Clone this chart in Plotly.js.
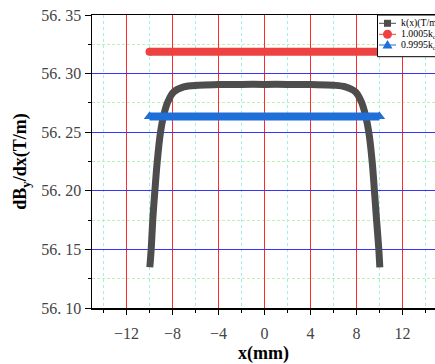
<!DOCTYPE html>
<html>
<head>
<meta charset="utf-8">
<script src="https://cdn.plot.ly/plotly-3.0.1.min.js"></script>
<style>html,body{margin:0;padding:0;background:#fff;}#chart{width:435px;height:364px;}</style>
</head>
<body>
<div id="chart"></div>
<script>
// k(x) curve
const xK = [-9.97, -9.85, -9.71, -9.54, -9.33, -9.04, -8.76, -8.41, -7.89, -7.02, -5.74, -4, -2, 0, 2, 4, 6.0, 7.04, 7.91, 8.43, 8.78, 9.07, 9.37, 9.57, 9.74, 9.94, 10.03];
const yK = [56.1347, 56.1505, 56.1761, 56.1989, 56.2245, 56.2502, 56.2645, 56.2758, 56.2844, 56.2887, 56.2901, 56.2906, 56.2908, 56.2908, 56.2908, 56.2906, 56.2901, 56.2887, 56.2844, 56.2758, 56.2645, 56.2502, 56.2245, 56.1989, 56.1761, 56.1505, 56.1347];
// reference levels
const xRef = [-10, 10];
const yHigh = [56.3187, 56.3187];   // 1.0005 k_c
const yLow = [56.2634, 56.2634];    // 0.9995 k_c
const seriesNames = ['k(x)(T/m)', '1.0005k<sub>c</sub>', '0.9995k<sub>c</sub>'];
const yTickVals = [56.10, 56.15, 56.20, 56.25, 56.30, 56.35];
const yTickText = ['56. 10', '56. 15', '56. 20', '56. 25', '56. 30', '56. 35'];
const xTickVals = [-12, -8, -4, 0, 4, 8, 12];

const cGray = '#4d4d4d', cRed = '#ee4242', cBlue = '#1f6fd8';

const traces = [
  {x: xK, y: yK, mode: 'lines', name: seriesNames[0], line: {color: cGray, width: 7, shape: 'spline'}, showlegend: false},
  {x: xRef, y: yHigh, mode: 'lines+markers', name: seriesNames[1], line: {color: cRed, width: 8}, marker: {symbol: 'circle', size: 8, color: cRed}, showlegend: false},
  {x: xRef, y: yLow, mode: 'lines+markers', name: seriesNames[2], line: {color: cBlue, width: 8}, marker: {symbol: 'triangle-up', size: 10, color: cBlue}, showlegend: false}
];

// manual legend geometry (paper coords)
const lx0 = (377.5 - 92) / 343, lyTop = 1.0, lyBot = (308 - 56.7) / 293;
const rowY = [(308 - 23.3) / 293, (308 - 34.3) / 293, (308 - 45) / 293];
const symL = (379 - 92) / 343, symR = (396 - 92) / 343, symC = (387.5 - 92) / 343, txtX = (399 - 92) / 343;
const colors = [cGray, cRed, cBlue];

const shapes = [
  {type: 'rect', xref: 'paper', yref: 'paper', x0: lx0, x1: 1.05, y0: lyBot, y1: lyTop, fillcolor: '#ffffff', line: {color: '#000', width: 1}, layer: 'above'}
];
const annotations = [];
for (let i = 0; i < 3; i++) {
  shapes.push({type: 'line', xref: 'paper', yref: 'paper', x0: symL, x1: symR, y0: rowY[i], y1: rowY[i], line: {color: colors[i], width: 1}, layer: 'above'});
  annotations.push({xref: 'paper', yref: 'paper', x: txtX, y: rowY[i], xanchor: 'left', yanchor: 'middle', text: seriesNames[i], showarrow: false, font: {family: 'Liberation Serif', size: 9.8, color: '#000'}});
}
shapes.push({type: 'rect', xref: 'paper', yref: 'paper', xsizemode: 'pixel', ysizemode: 'pixel', xanchor: symC, yanchor: rowY[0], x0: -3.5, x1: 3.5, y0: -3.5, y1: 3.5, fillcolor: cGray, line: {width: 0}, layer: 'above'});
shapes.push({type: 'circle', xref: 'paper', yref: 'paper', xsizemode: 'pixel', ysizemode: 'pixel', xanchor: symC, yanchor: rowY[1], x0: -4.5, x1: 4.5, y0: -4.5, y1: 4.5, fillcolor: cRed, line: {width: 0}, layer: 'above'});
shapes.push({type: 'path', xref: 'paper', yref: 'paper', xsizemode: 'pixel', ysizemode: 'pixel', xanchor: symC, yanchor: rowY[2], path: 'M-5,-3.5 L5,-3.5 L0,5 Z', fillcolor: cBlue, line: {width: 0}, layer: 'above'});

const layout = {
  width: 435, height: 364,
  margin: {l: 92, r: 0, t: 15, b: 56, pad: 0},
  paper_bgcolor: '#fff', plot_bgcolor: '#fff',
  showlegend: false,
  xaxis: {
    range: [-15, 14.83], tickvals: xTickVals, ticks: 'outside', ticklen: 5, tickwidth: 1, tickcolor: '#000',
    showline: true, linecolor: '#000', linewidth: 1.5, mirror: true, zeroline: false,
    showgrid: true, gridcolor: '#ff2a2a', gridwidth: 1.2,
    minor: {dtick: 2, tick0: 0, showgrid: true, gridcolor: '#a0eeee', griddash: 'dot', gridwidth: 1.2, ticks: 'outside', ticklen: 3, tickcolor: '#000'},
    tickfont: {family: 'Liberation Serif', size: 16, color: '#444'},
    ticklabelstandoff: 5,
    title: {text: '<b>x(mm)</b>', font: {family: 'Liberation Serif', size: 18, color: '#000'}, standoff: 12}
  },
  yaxis: {
    range: [56.10, 56.35], tickvals: yTickVals, ticktext: yTickText, ticks: 'outside', ticklen: 6, tickwidth: 1, tickcolor: '#000',
    showline: true, linecolor: '#000', linewidth: 1.5, zeroline: false,
    showgrid: true, gridcolor: '#3535ff', gridwidth: 1.2,
    minor: {dtick: 0.025, tick0: 56.1, showgrid: true, gridcolor: '#b8f5b0', griddash: '3px,2px', gridwidth: 1, ticks: 'outside', ticklen: 3, tickcolor: '#000'},
    tickfont: {family: 'Liberation Serif', size: 16, color: '#444'},
    title: {text: '<b>dB<sub>y</sub>/dx(T/m)</b>', font: {family: 'Liberation Serif', size: 18, color: '#000'}, standoff: 10}
  },
  shapes: shapes,
  annotations: annotations
};

Plotly.newPlot('chart', traces, layout, {staticPlot: true, displayModeBar: false});
</script>
</body>
</html>
